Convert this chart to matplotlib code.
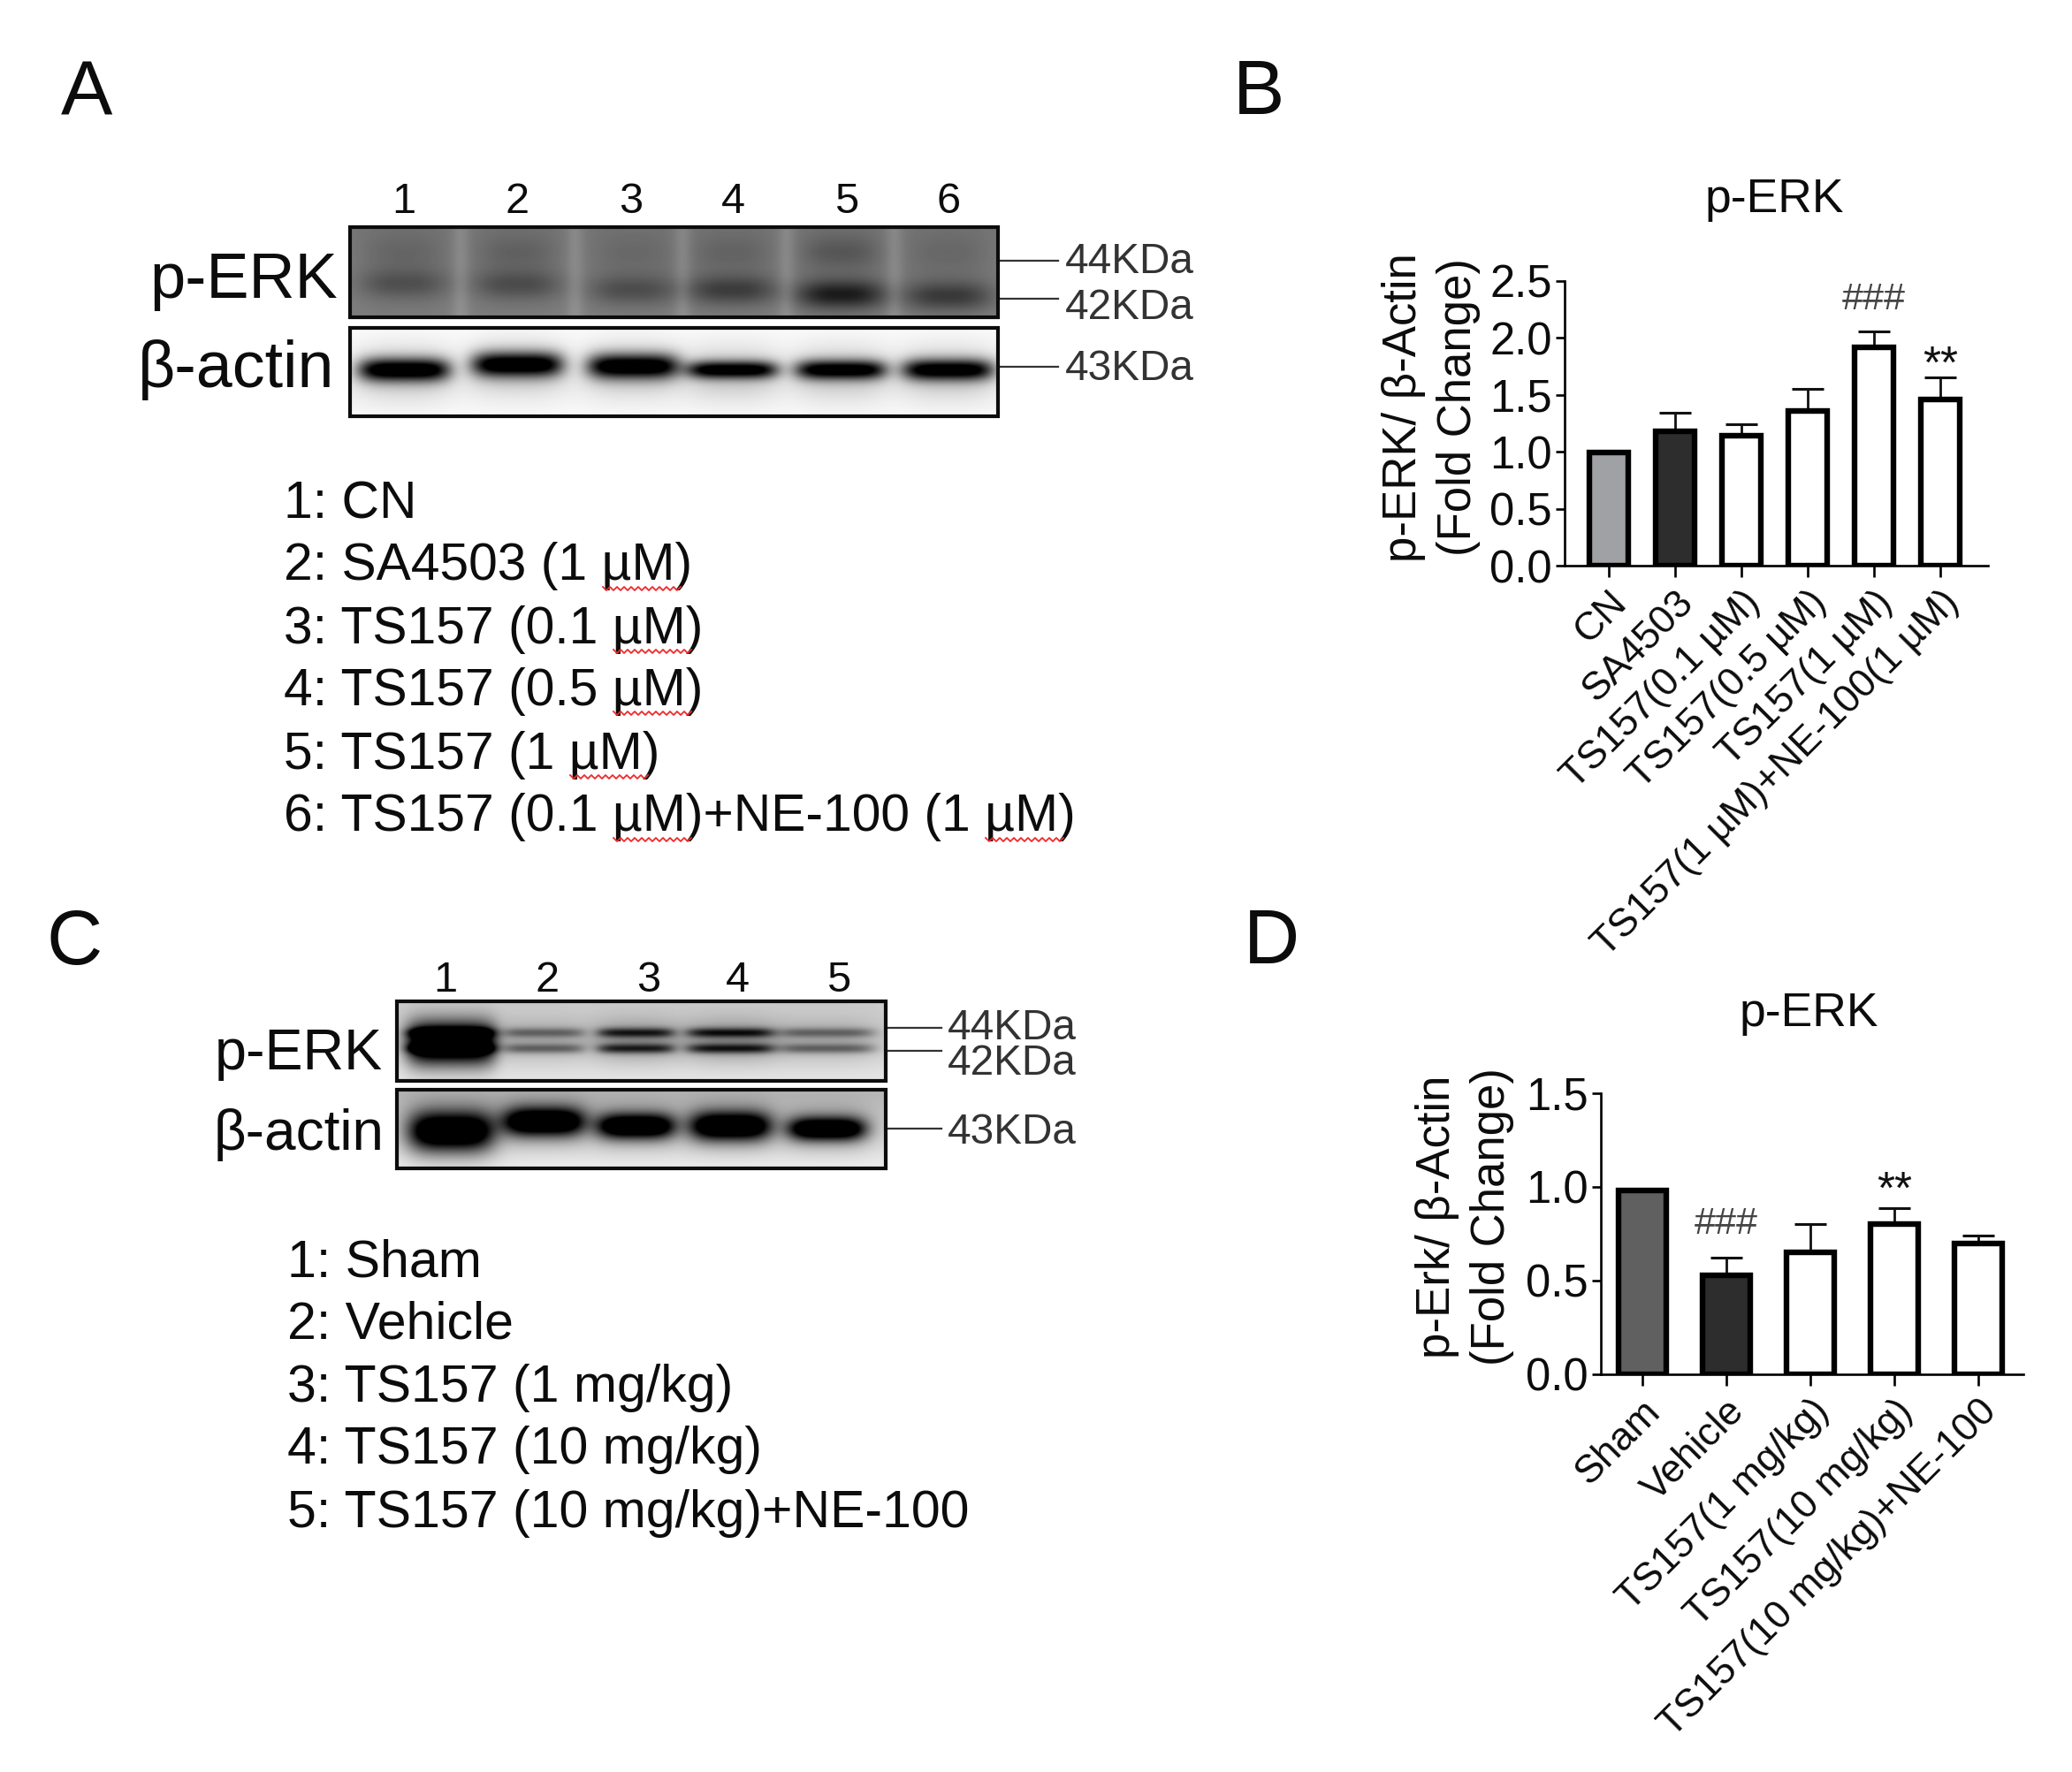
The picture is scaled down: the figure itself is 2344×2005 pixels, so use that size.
import numpy as np
import matplotlib
matplotlib.use("Agg")
import matplotlib.pyplot as plt
from matplotlib.patches import Rectangle

plt.rcParams['font.family'] = ['Liberation Sans', 'DejaVu Sans']
W, H = 2344, 2005

# ---- bar data ----
b_labels = ['CN', 'SA4503', 'TS157(0.1 µM)', 'TS157(0.5 µM)', 'TS157(1 µM)', 'TS157(1 µM)+NE-100(1 µM)']
b_values = [0.99, 1.18, 1.14, 1.36, 1.92, 1.46]
b_errors = [0, 0.16, 0.10, 0.19, 0.14, 0.19]
b_colors = ['#a0a1a4', '#2d2d2d', 'white', 'white', 'white', 'white']
b_ticks = [0, 0.5, 1.0, 1.5, 2.0, 2.5]

d_labels = ['Sham', 'Vehicle', 'TS157(1 mg/kg)', 'TS157(10 mg/kg)', 'TS157(10 mg/kg)+NE-100']
d_values = [0.98, 0.53, 0.65, 0.80, 0.70]
d_errors = [0, 0.095, 0.15, 0.085, 0.04]
d_colors = ['#606060', '#2d2d2d', 'white', 'white', 'white']
d_ticks = [0, 0.5, 1.0, 1.5]

# ---- legend texts ----
a_legend = ['1: CN', '2: SA4503 (1 µM)', '3: TS157 (0.1 µM)', '4: TS157 (0.5 µM)',
            '5: TS157 (1 µM)', '6: TS157 (0.1 µM)+NE-100 (1 µM)']
a_legend_y = [571, 641, 712, 782, 854, 925]
c_legend = ['1: Sham', '2: Vehicle', '3: TS157 (1 mg/kg)', '4: TS157 (10 mg/kg)',
            '5: TS157 (10 mg/kg)+NE-100']
c_legend_y = [1429, 1499, 1570, 1640, 1712]

# ---- blot bands: lane x, band y, half width, half height, darkness ----
a_lane_x = [457, 585, 716, 828, 951, 1072]
a_perk_42 = [0.30, 0.33, 0.33, 0.48, 0.78, 0.52]
a_perk_44 = [0.08, 0.12, 0.05, 0.10, 0.22, 0.06]
a_perk_y = [321, 322, 328, 328, 333, 335]
a_actin_y = [418, 412, 414, 418, 418, 418]
a_actin_dark = [1.0, 1.0, 1.0, 0.95, 0.95, 0.95]
a_actin_hh = [13, 14, 14, 10, 11, 12]
c_lane_x = [510, 615, 719, 826, 935]
c_perk_44 = [1.0, 0.55, 0.95, 1.0, 0.55]
c_perk_42 = [1.0, 0.60, 0.95, 1.0, 0.60]
c_perk_hw = [50, 46, 44, 50, 54]
c_actin_dark = [1.0, 1.0, 1.0, 1.0, 1.0]
c_actin_hh = [22, 16, 14, 16, 13]
c_actin_y = [1280, 1269, 1274, 1274, 1277]
c_actin_hw = [48, 46, 44, 46, 44]


def band(X, Y, x0, y0, hw, hh, p=3):
    return np.exp(-np.abs((X - x0) / hw) ** p - np.abs((Y - y0) / hh) ** 2)


def frame_grid(x0, x1, y0, y1):
    return np.meshgrid(np.arange(x0, x1), np.arange(y0, y1))


def show(page, img, x0, x1, y0, y1):
    page.imshow(np.clip(img, 0, 1), cmap='gray', vmin=0, vmax=1, extent=(x0, x1, y1, y0),
                aspect='auto', interpolation='bilinear', zorder=1)
    page.add_patch(Rectangle((x0, y0), x1 - x0, y1 - y0, fill=False, ec='#0c0c0c', lw=3.0, zorder=2))


fig = plt.figure(figsize=(W / 100, H / 100), dpi=100, facecolor='white')
page = fig.add_axes([0, 0, 1, 1], zorder=0)

# blot A p-ERK
X, Y = frame_grid(396, 1129, 257, 359)
img = np.full(X.shape, 0.47) + 0.03 * (Y - 257) / 102
for x in a_lane_x:
    img -= 0.05 * band(X, Y, x, 300, 50, 60)
for a, b in zip(a_lane_x[:-1], a_lane_x[1:]):
    img += 0.07 * np.exp(-((X - (a + b) / 2) / 10) ** 2)
for x, d44, d42, y42 in zip(a_lane_x, a_perk_44, a_perk_42, a_perk_y):
    img -= 0.42 * d44 * band(X, Y, x, 285, 42, 18)
    img -= 0.45 * d42 * band(X, Y, x, y42, 50, 16)
show(page, img, 396, 1129, 257, 359)

# blot A actin
X, Y = frame_grid(396, 1129, 371, 471)
img = np.full(X.shape, 0.98) - 0.05 * np.exp(-((Y - 425) / 30) ** 2)
for x, y, d, hh in zip(a_lane_x, a_actin_y, a_actin_dark, a_actin_hh):
    img -= 0.16 * band(X, Y, x, y + 4, 52, 30)
    img -= 1.0 * d * band(X, Y, x, y, 52, hh, 5)
show(page, img, 396, 1129, 371, 471)

# blot C p-ERK
X, Y = frame_grid(449, 1002, 1133, 1223)
img = 0.80 + 0.10 * np.clip((Y - 1133) / 90, 0, 1) - 0.04 * np.exp(-((Y - 1175) / 24) ** 2)
for x, d44, d42, hw in zip(c_lane_x, c_perk_44, c_perk_42, c_perk_hw):
    img -= 0.13 * (d44 + d42) * band(X, Y, x, 1177, hw + 6, 24)
    img -= 0.55 * d44 * band(X, Y, x, 1168, hw, 5.5, 6)
    img -= 0.55 * d42 * band(X, Y, x, 1186, hw, 5.5, 6)
img -= 1.0 * band(X, Y, c_lane_x[0], 1181, 50, 24, 6)
show(page, img, 449, 1002, 1133, 1223)

# blot C actin
X, Y = frame_grid(449, 1002, 1233, 1322)
img = 0.72 + 0.20 * np.clip((Y - 1240) / 75, 0, 1)
for x, y, d, hh, hw in zip(c_lane_x, c_actin_y, c_actin_dark, c_actin_hh, c_actin_hw):
    img -= 0.22 * band(X, Y, x, y, hw + 8, hh + 12)
    img -= d * band(X, Y, x, y, hw, hh, 4)
show(page, img, 449, 1002, 1233, 1322)

page.set_xlim(0, W)
page.set_ylim(H, 0)
page.axis('off')

def T(x, y, s, size, ha='center', va='center', color='#0c0c0c', **kw):
    page.text(x, y, s, fontsize=size, ha=ha, va=va, color=color, **kw)

for s, x, y in [('A', 98, 108), ('B', 1424, 106), ('C', 84, 1068), ('D', 1439, 1068)]:
    T(x, y, s, 63)

for i, x in enumerate([457, 585, 714, 829, 958, 1073]):
    T(x, 228, str(i + 1), 35)
for i, x in enumerate([504, 619, 734, 834, 949]):
    T(x, 1110, str(i + 1), 35)

T(382, 318, 'p-ERK', 52, ha='right')
T(378, 418, 'β-actin', 53, ha='right')
T(433, 1193, 'p-ERK', 46.5, ha='right')
T(434, 1284, 'β-actin', 46, ha='right')

for s, y in [('44KDa', 296), ('42KDa', 348), ('43KDa', 417)]:
    T(1205, y, s, 34.4, ha='left', color='#333333')
for s, y in [('44KDa', 1163), ('42KDa', 1203), ('43KDa', 1281)]:
    T(1072, y, s, 34.4, ha='left', color='#333333')
for y in [295, 338, 415]:
    page.plot([1129, 1197], [y, y], color='#333333', lw=1.6, zorder=1)
for y in [1163, 1189, 1277]:
    page.plot([1002, 1065], [y, y], color='#333333', lw=1.6, zorder=1)

for s, y in zip(a_legend, a_legend_y):
    T(321, y, s, 42.3, ha='left')
for s, y in zip(c_legend, c_legend_y):
    T(325, y, s, 42.5, ha='left')

# red proofing squiggles beneath the µM words
squiggles = [(682, 770, 664), (694, 782, 735), (694, 782, 805), (645, 733, 877), (694, 782, 948), (1115, 1203, 948)]
for x0, x1, y in squiggles:
    xs = np.arange(x0, x1 + 1, 4)
    ys = y + 4 * (np.arange(len(xs)) % 2)
    page.plot(xs, ys, color='#ee2a2a', lw=1.3, zorder=3)


def bars(rect, centers, labels, values, errors, colors, ticks, ymax, bw, title, title_xy,
         yl1, yl2, yl_x, yl_yc, marks):
    l, r, b, t = rect
    ax = fig.add_axes([l / W, 1 - b / H, (r - l) / W, (b - t) / H], zorder=2)
    ax.patch.set_alpha(0)
    ax.set_xlim(l, r)
    ax.set_ylim(0, ymax)
    ax.bar(centers, values, width=bw - 6, color=colors, edgecolor='black', linewidth=4.6, zorder=2)
    for x, v, e in zip(centers, values, errors):
        if e > 0:
            ax.errorbar(x, v, yerr=[[0], [e]], color='#111111', lw=2, capsize=13, capthick=2.2, zorder=1)
    for s in ['top', 'right']:
        ax.spines[s].set_visible(False)
    for s in ['left', 'bottom']:
        ax.spines[s].set_linewidth(1.9)
    ax.set_yticks(ticks)
    ax.set_yticklabels([f'{v:.1f}' for v in ticks], fontsize=36.5, color='#0c0c0c')
    ax.tick_params(axis='y', length=7, width=1.9, pad=3)
    ax.set_xticks(centers)
    ax.set_xticklabels(labels, fontsize=32, rotation=45, ha='right', va='top',
                       rotation_mode='anchor', color='#0c0c0c')
    ax.tick_params(axis='x', length=9, width=1.9, pad=6)
    for s_, xi, yv, c, fs in marks:
        ax.text(centers[xi], yv, s_, fontsize=fs, ha='center', va='center', color=c)
    T(title_xy[0], title_xy[1], title, 38.5)
    T(yl_x[0], yl_yc, yl1, 38, rotation=90)
    T(yl_x[1], yl_yc, yl2, 38, rotation=90)


bars((1770, 2249, 640, 318), [1820, 1895, 1970, 2045, 2120, 2195], b_labels, b_values, b_errors, b_colors,
     b_ticks, 2.5, 50, 'p-ERK', (2007, 226), 'p-ERK/ β-Actin', '(Fold Change)', (1588, 1650), 461,
     [('###', 4, 2.34, '#444444', 31), ('**', 5, 1.75, '#111111', 37)])
bars((1811, 2289, 1555, 1237), [1858, 1953, 2048, 2143, 2238], d_labels, d_values, d_errors, d_colors,
     d_ticks, 1.5, 60.5, 'p-ERK', (2046, 1147), 'p-Erk/ β-Actin', '(Fold Change)', (1626, 1688), 1377,
     [('###', 1, 0.80, '#444444', 31), ('**', 3, 0.975, '#111111', 37)])

fig.savefig('out.png', dpi=100, facecolor='white')
